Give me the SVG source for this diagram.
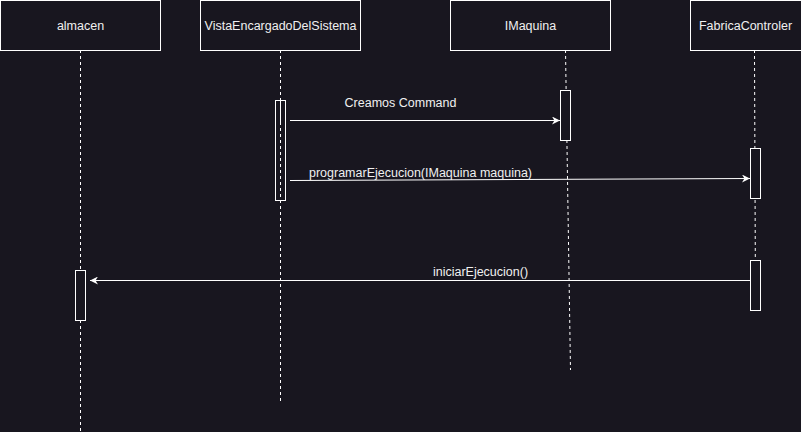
<svg xmlns="http://www.w3.org/2000/svg" width="801" height="432" viewBox="0 0 801 432">
<style>
.box{fill:#18161f;stroke:#ffffff;stroke-width:1}
.lbl{font-family:"Liberation Sans",Arial,sans-serif;font-size:12.5px;fill:#f0f0f0;text-anchor:middle}
.life{stroke:#ffffff;stroke-width:1;stroke-dasharray:3 3;fill:none}
.msg{stroke:#ffffff;stroke-width:1;fill:none}
</style>
<defs>
<marker id="arr" viewBox="0 0 10 10" refX="10" refY="5" markerWidth="8" markerHeight="8" markerUnits="userSpaceOnUse" orient="auto">
<path d="M0,0 L10,5 L0,10 L3,5 Z" fill="#ffffff"/>
</marker>
</defs>
<rect width="801" height="432" fill="#18161f"/>
<g id="lifelines">
<line class="life" x1="80.5" y1="50" x2="80.5" y2="432"/>
<line class="life" x1="280.5" y1="50" x2="280.5" y2="402"/>
<line class="life" x1="565.5" y1="50" x2="570.5" y2="370"/>
<line class="life" x1="754.5" y1="50" x2="755.5" y2="310"/>
</g>
<g id="almacen">
<rect class="box" x="0.5" y="0.5" width="160" height="50"/>
<text class="lbl" x="80.5" y="29.5">almacen</text>
</g>
<g id="vista">
<rect class="box" x="200.5" y="0.5" width="160" height="50"/>
<text class="lbl" x="280.5" y="29.5">VistaEncargadoDelSistema</text>
</g>
<g id="imaquina">
<rect class="box" x="450.5" y="0.5" width="160" height="50"/>
<text class="lbl" x="530.5" y="29.5">IMaquina</text>
</g>
<g id="fabrica">
<rect class="box" x="690.5" y="0.5" width="120" height="50"/>
<text class="lbl" x="745.5" y="29.5">FabricaControler</text>
</g>
<g id="activations">
<rect class="box" x="275.5" y="100.5" width="10" height="100" fill-opacity="0"/>
<line class="life" x1="280.5" y1="101" x2="280.5" y2="125"/>
<rect class="box" x="560.5" y="90.5" width="10" height="50"/>
<rect class="box" x="750.5" y="148.5" width="10" height="50"/>
<rect class="box" x="750.5" y="260.5" width="10" height="50"/>
<rect class="box" x="75.5" y="270.5" width="10" height="50"/>
</g>
<g id="connectors">
<line class="msg" x1="290" y1="120.5" x2="560" y2="120.5" marker-end="url(#arr)"/>
<text class="lbl" x="400.5" y="107">Creamos Command</text>
<line class="msg" x1="290" y1="180.5" x2="750" y2="178.5" marker-end="url(#arr)"/>
<text class="lbl" x="420.5" y="177">programarEjecucion(IMaquina maquina)</text>
<line class="msg" x1="750" y1="280.5" x2="90" y2="280.5" marker-end="url(#arr)"/>
<text class="lbl" x="480.5" y="276">iniciarEjecucion()</text>
</g>
</svg>
